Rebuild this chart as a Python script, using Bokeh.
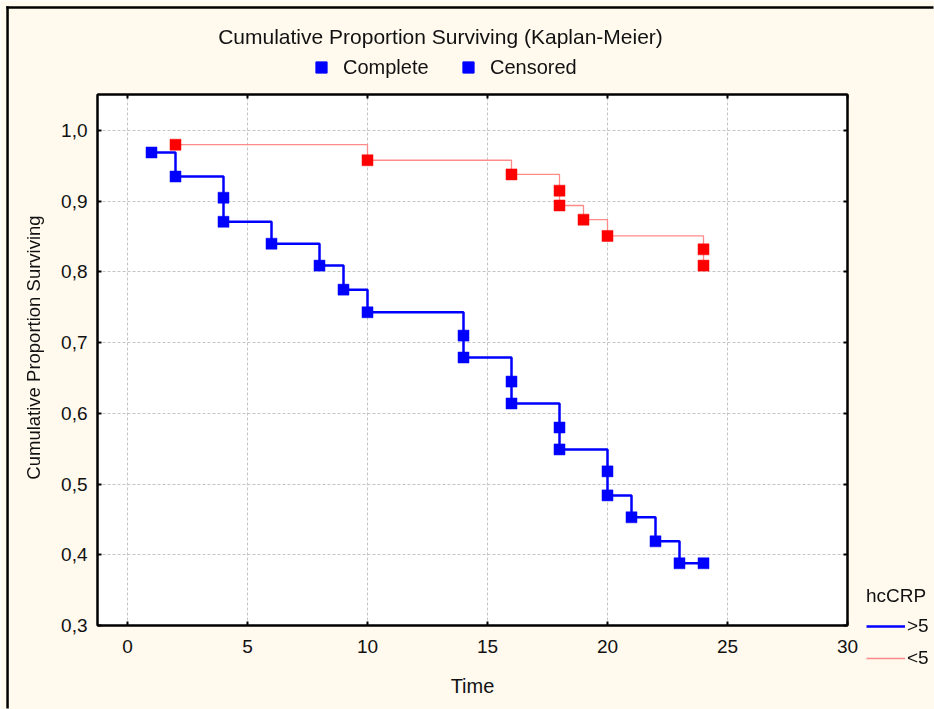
import math
from bokeh.plotting import figure
from bokeh.models import (ColumnDataSource, Legend, LegendItem, LinearAxis, Label,
                          BoxAnnotation, FixedTicker, CustomJSTickFormatter, Range1d)
from bokeh.embed import file_html
from bokeh.resources import INLINE

# ---- data ----
time_hi = [1, 2, 4, 4, 6, 8, 9, 10, 14, 14, 16, 16, 18, 18, 20, 20, 21, 22, 23, 24]
surv_hi = [0.969, 0.935, 0.905, 0.871, 0.840, 0.809, 0.775, 0.743, 0.710, 0.679,
           0.645, 0.614, 0.580, 0.549, 0.518, 0.484, 0.453, 0.419, 0.388, 0.388]
time_lo = [2, 10, 16, 18, 18, 19, 20, 24, 24]
surv_lo = [0.980, 0.958, 0.938, 0.915, 0.894, 0.874, 0.851, 0.832, 0.809]
x_ticks = [0, 5, 10, 15, 20, 25, 30]
y_ticks = [0.3, 0.4, 0.5, 0.6, 0.7, 0.8, 0.9, 1.0]
group_labels = [">5", "<5"]
marker_labels = ["Complete", "Censored"]
group_title = "hcCRP"
chart_title = "Cumulative Proportion Surviving (Kaplan-Meier)"
x_title = "Time"
y_title = "Cumulative Proportion Surviving"

FONT = "Liberation Sans"
BLUE = "#0000FF"
RED = "#FF0000"
PINK = "#FF8A8A"
CREAM = "#FFF9EE"
INK = "#111111"
W, H = 934, 709

# ================= main chart =================
p = figure(width=W, height=H, output_backend="svg", toolbar_location=None,
           title_location=None,
           x_range=Range1d(-1.25, 30), y_range=Range1d(0.3, 1.051),
           min_border_left=97, min_border_right=87, min_border_top=94, min_border_bottom=84,
           background_fill_color="white", border_fill_color=CREAM)

p.outline_line_color = "black"
p.outline_line_width = 2

p.xaxis.ticker = FixedTicker(ticks=x_ticks)
p.yaxis.ticker = FixedTicker(ticks=y_ticks)
p.yaxis.formatter = CustomJSTickFormatter(code="return tick.toFixed(1).replace('.', ',');")
p.xaxis.axis_label = x_title

for ax in [p.xaxis[0], p.yaxis[0]]:
    ax.axis_line_color = "black"
    ax.axis_line_width = 2
    ax.major_tick_in = 4
    ax.major_tick_out = 0
    ax.major_tick_line_color = "black"
    ax.major_tick_line_width = 2
    ax.minor_tick_line_color = None
    ax.major_label_text_font = FONT
    ax.major_label_text_font_size = "19px"
    ax.major_label_text_color = INK
    ax.axis_label_text_font = FONT
    ax.axis_label_text_font_style = "normal"
    ax.axis_label_text_color = INK
p.xaxis.axis_label_text_font_size = "20px"
p.xaxis.major_label_standoff = 14
p.xaxis.axis_label_standoff = 19
p.yaxis.major_label_standoff = 10

blank = CustomJSTickFormatter(code="return '';")
top_ax = LinearAxis(ticker=FixedTicker(ticks=x_ticks), formatter=blank,
                    major_label_standoff=0,
                    major_tick_in=4, major_tick_out=0, minor_tick_line_color=None,
                    axis_line_color="black", axis_line_width=2, major_tick_line_width=2)
right_ax = LinearAxis(ticker=FixedTicker(ticks=y_ticks), formatter=blank,
                      major_label_standoff=0,
                      major_tick_in=4, major_tick_out=0, minor_tick_line_color=None,
                      axis_line_color="black", axis_line_width=2, major_tick_line_width=2)
p.add_layout(top_ax, "above")
p.add_layout(right_ax, "right")

for g in [p.xgrid[0], p.ygrid[0]]:
    g.grid_line_color = "#C4C4C4"
    g.grid_line_dash = "3 2"
    g.grid_line_width = 1
p.xgrid.ticker = FixedTicker(ticks=x_ticks)
p.ygrid.ticker = FixedTicker(ticks=y_ticks)

src_hi = ColumnDataSource(dict(t=time_hi, s=surv_hi))
src_lo = ColumnDataSource(dict(t=time_lo, s=surv_lo))

p.step("t", "s", source=src_lo, mode="after", line_color=PINK, line_width=1.3)
p.step("t", "s", source=src_hi, mode="after", line_color=BLUE, line_width=2.5)
p.scatter("t", "s", source=src_lo, marker="square", size=11,
          fill_color=RED, line_color=RED, line_width=0.5)
p.scatter("t", "s", source=src_hi, marker="square", size=11,
          fill_color=BLUE, line_color=BLUE, line_width=0.5)

# ================= overlay for title, legends, y title and outer border =================
ov = figure(width=W, height=H, output_backend="svg", toolbar_location=None,
            title_location=None, x_axis_type=None, y_axis_type=None,
            x_range=Range1d(0, W), y_range=Range1d(H, 0), min_border=0,
            background_fill_alpha=0, border_fill_alpha=0, outline_line_color=None)
ov.styles = {"position": "fixed", "left": "0px", "top": "0px"}

# hidden proxies (same data) used only to draw the legend glyphs
px_sq = ov.scatter("t", "s", source=src_hi, marker="square", size=11,
                   fill_color=BLUE, line_color=BLUE, visible=False)
px_hi = ov.line("t", "s", source=src_hi, line_color=BLUE, line_width=2.5, visible=False)
px_lo = ov.line("t", "s", source=src_lo, line_color=PINK, line_width=1.3, visible=False)

ov.add_layout(Label(x=440, y=36, text=chart_title, text_align="center",
                    text_baseline="middle", text_font=FONT, text_font_size="21px",
                    text_color=INK))
ov.add_layout(Label(x=33, y=347, text=y_title, angle=math.pi / 2, text_align="center",
                    text_baseline="middle", text_font=FONT, text_font_size="18.5px",
                    text_color=INK))

leg_top = Legend(items=[LegendItem(label=marker_labels[0], renderers=[px_sq]),
                        LegendItem(label=marker_labels[1], renderers=[px_sq])],
                 orientation="horizontal", location=(307, H - 81),
                 glyph_width=28, glyph_height=28, label_standoff=8, label_width=111,
                 spacing=0, padding=0, margin=0,
                 border_line_alpha=0, background_fill_alpha=0, inactive_fill_alpha=0,
                 label_text_font=FONT, label_text_font_size="20px", label_text_color=INK)
ov.add_layout(leg_top)

leg_grp = Legend(items=[LegendItem(label=group_labels[0], renderers=[px_hi]),
                        LegendItem(label=group_labels[1], renderers=[px_lo])],
                 title=group_title, location=(866, H - 669),
                 glyph_width=39, glyph_height=20, label_standoff=2, spacing=10,
                 padding=0, margin=0, title_standoff=8,
                 border_line_alpha=0, background_fill_alpha=0, inactive_fill_alpha=0,
                 label_text_font=FONT, label_text_font_size="19px", label_text_color=INK,
                 title_text_font=FONT, title_text_font_size="19px",
                 title_text_font_style="normal", title_text_color=INK)
ov.add_layout(leg_grp)

# outer frame of the graph window: only its left and top edges are in view
ov.add_layout(BoxAnnotation(left=5.8, right=8.3, top=5.8, bottom=H - 1,
                            fill_color="black", fill_alpha=1, line_color=None))
ov.add_layout(BoxAnnotation(left=5.8, right=W - 1, top=5.8, bottom=8.3,
                            fill_color="black", fill_alpha=1, line_color=None))

open("out.html", "w").write(file_html([p, ov], INLINE))
